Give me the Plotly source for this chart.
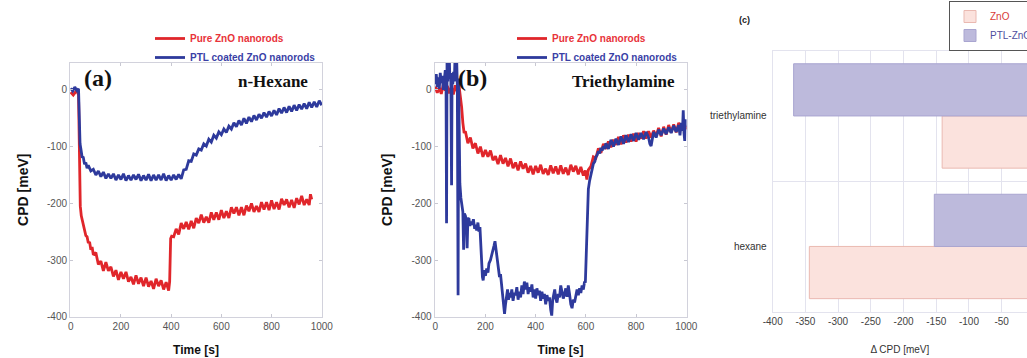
import plotly.graph_objects as go

# ---------------- data ----------------
# (a) n-Hexane, pure ZnO nanorods
a_zno_t = [0, 10, 20, 28, 31, 33, 35, 38, 42, 46,
           50, 55, 60, 65, 70, 75, 80, 85, 90,
           100, 110, 120, 130, 140, 150, 160, 170, 180, 190,
           200, 210, 220, 230, 240, 250, 260, 270, 280, 290,
           300, 310, 320, 330, 340, 350, 360, 370, 380, 390,
           394, 396, 398, 402,
           410, 420, 430, 440, 450, 460, 470, 480, 490, 500,
           510, 520, 530, 540, 550, 560, 570, 580, 590, 600,
           610, 620, 630, 640, 650, 660, 670, 680, 690, 700,
           710, 720, 730, 740, 750, 760, 770, 780, 790, 800,
           810, 820, 830, 840, 850, 860, 870, 880, 890, 900,
           910, 920, 930, 940, 950, 955, 960]
a_zno_v = [-4, -9, -3, -5, -9, -80, -165, -205, -222, -231,
           -241, -246, -257, -259, -270, -268, -282, -277, -291,
           -287, -308, -302, -319, -304, -319, -312, -329, -318, -335,
           -321, -333, -321, -338, -330, -343, -327, -342, -331, -346,
           -331, -347, -337, -351, -333, -346, -336, -352, -339, -354,
           -338, -300, -262, -258,
           -259, -245, -255, -235, -245, -233, -246, -231, -244, -226,
           -235, -220, -234, -224, -234, -216, -229, -216, -229, -212,
           -226, -214, -226, -207, -218, -207, -221, -207, -221, -204,
           -214, -200, -215, -205, -215, -198, -211, -198, -212, -195,
           -210, -198, -211, -192, -203, -193, -207, -194, -208, -191,
           -202, -187, -203, -193, -203, -184, -193]

# (a) n-Hexane, PTL coated ZnO nanorods
a_ptl_t = [0, 8, 16, 24, 31, 34, 37, 41, 45,
           50, 55, 60, 65, 70, 80, 90,
           100, 110, 120, 130, 140, 150, 160, 170, 180, 190,
           200, 210, 220, 230, 240, 250, 260, 270, 280, 290,
           300, 310, 320, 330, 340, 350, 360, 370, 380, 390,
           400, 410, 420, 430, 440, 450, 460, 470, 480, 490,
           500, 510, 520, 530, 540, 550, 560, 570, 580, 590,
           600, 610, 620, 630, 640, 650, 660, 670, 680, 690,
           700, 710, 720, 730, 740, 750, 760, 770, 780, 790,
           800, 810, 820, 830, 840, 850, 860, 870, 880, 890,
           900, 910, 920, 930, 940, 950, 960, 970, 980, 990, 1000]
a_ptl_v = [3, -2, 5, -1, 2, -60, -95, -106, -118,
           -119, -131, -128, -138, -133, -143, -140,
           -150, -143, -153, -145, -156, -148, -156, -148, -159, -150,
           -158, -148, -160, -151, -159, -150, -158, -149, -160, -151,
           -159, -149, -160, -150, -159, -150, -159, -148, -160, -151,
           -159, -150, -158, -149, -157, -141, -140, -125, -126, -113,
           -115, -104, -106, -95, -99, -87, -92, -80, -85, -74,
           -79, -69, -75, -64, -69, -58, -65, -54, -62, -50,
           -59, -48, -56, -45, -53, -43, -50, -40, -48, -38,
           -46, -36, -44, -33, -41, -31, -40, -29, -38, -27,
           -36, -26, -34, -24, -33, -22, -31, -21, -30, -19, -27]

# (b) Triethylamine, pure ZnO nanorods
b_zno_t = [0, 8, 16, 24, 32, 40, 48, 56, 64, 72, 80, 88, 95,
           100, 105, 110, 115, 120,
           130, 140, 150, 160, 170, 180, 190, 200, 210, 220,
           230, 240, 250, 260, 270, 280, 290, 300, 310, 320,
           330, 340, 350, 360, 370, 380, 390, 400, 410, 420,
           430, 440, 450, 460, 470, 480, 490, 500, 510, 520,
           530, 540, 550, 560, 570, 580, 590, 598, 604, 610,
           620, 630, 640, 650, 660, 670, 680, 690, 700, 710,
           720, 730, 740, 750, 760, 770, 780, 790, 800, 810,
           820, 830, 840, 850, 860, 870, 880, 890, 900, 910,
           920, 930, 940, 950, 960, 970, 980, 990, 1000]
b_zno_v = [6, -5, 4, -7, 9, -1, 7, -6, 5, -8, 8, -3, 6,
           -10, -30, -58, -76, -73,
           -94, -84, -103, -94, -112, -100, -118, -106, -118, -107,
           -124, -117, -131, -115, -130, -120, -135, -121, -138, -128,
           -142, -126, -139, -130, -146, -134, -149, -134, -146, -132,
           -148, -139, -150, -133, -147, -135, -149, -133, -148, -137,
           -150, -132, -144, -134, -149, -136, -151, -142, -158, -141,
           -135, -118, -120, -103, -111, -95, -104, -91, -101, -88,
           -97, -83, -96, -80, -93, -79, -91, -77, -91, -76,
           -86, -73, -86, -73, -84, -72, -81, -67, -82, -65,
           -79, -62, -75, -61, -75, -58, -71, -56, -70]

# (b) Triethylamine, PTL coated ZnO nanorods
b_ptl_t = [0, 4, 8, 12, 16, 20, 24, 28, 32, 36,
           40, 43, 45, 47, 50, 53, 56, 58, 62, 65,
           67, 70, 73, 76, 79, 82, 85, 88, 91, 93,
           96, 98, 102, 107, 110, 113, 116, 120, 124, 127,
           130, 134, 138, 142, 147, 152, 157, 161, 165, 170,
           174, 178, 182, 185, 188, 191, 195, 200, 205, 210,
           214, 220, 225, 230, 234, 238, 242, 247, 252, 256,
           260, 264, 268, 272, 276, 280, 284, 288, 292, 296,
           300, 305, 310, 315, 320, 325, 330, 335, 340, 345,
           350, 355, 360, 365, 370, 375, 380, 385, 390, 395,
           400, 405, 410, 415, 420, 425, 430, 435, 440, 445,
           450, 455, 460, 464, 468, 472, 476, 480, 485, 490,
           495, 500, 505, 510, 515, 520, 525, 530, 535, 540,
           545, 550, 555, 560, 565, 570, 575, 580, 585, 590,
           595, 598, 601, 603, 606, 610, 615, 620, 625, 630,
           636, 640, 645, 650, 655, 660, 665, 670, 675, 680,
           690, 700, 710, 720, 730, 740, 750, 760, 770, 780,
           790, 800, 810, 820, 830, 840, 850, 855, 860, 865,
           870, 880, 890, 900, 910, 920, 930, 940, 950, 960,
           970, 975, 980, 985, 988, 991, 994, 997, 1000]
b_ptl_v = [10, 28, 5, 22, 2, 30, 12, 25, 0, 18,
           35, 8, -235, 60, 15, 40, 60, 20, 30, -168,
           25, 10, 32, 15, 60, 20, 60, 5, -362, 20,
           -120, -165, -190, -206, -215, -282, -218, -222, -230, -279,
           -228, -226, -240, -232, -238, -228, -245, -238, -248, -234,
           -250, -242, -290, -312, -330, -336, -318, -328, -315, -322,
           -306, -300, -292, -285, -275, -267, -280, -300, -310, -330,
           -325, -345, -360, -372, -395, -378, -360, -352, -370, -358,
           -366, -352, -372, -358, -362, -348, -370, -356, -366, -345,
           -360, -338, -352, -340, -360, -348, -356, -343, -366, -352,
           -368, -350, -362, -354, -372, -356, -368, -360, -378, -362,
           -372, -366, -388, -398, -370, -362, -352, -368, -375, -360,
           -366, -345, -355, -368, -360, -350, -365, -345, -360, -378,
           -385, -370, -375, -360, -352, -362, -350, -358, -345, -352,
           -338, -340, -300, -245, -205, -175, -160, -148, -140, -130,
           -126, -118, -115, -108, -112, -102, -107, -99, -104, -94,
           -104, -88, -100, -86, -97, -82, -95, -80, -92, -78,
           -90, -76, -88, -76, -87, -74, -84, -95, -99, -86,
           -74, -84, -70, -80, -68, -78, -66, -76, -63, -74,
           -62, -80, -58, -72, -36, -76, -90, -52, -66]

# (c) change of CPD
c_categories = ["hexane", "triethylamine"]
c_zno = [-344, -141]
c_ptl = [-153, -368]

time_ticks = [0, 200, 400, 600, 800, 1000]
time_labels = ["0", "200", "400", "600", "800", "1000"]
cpd_ticks = [-400, -300, -200, -100, 0]
cpd_labels = ["-400", "-300", "-200", "-100", "0"]
dcpd_ticks = [-400, -350, -300, -250, -200, -150, -100, -50, 0]
dcpd_labels = ["-400", "-350", "-300", "-250", "-200", "-150", "-100", "-50", "0"]

for t, v in [(a_zno_t, a_zno_v), (a_ptl_t, a_ptl_v), (b_zno_t, b_zno_v), (b_ptl_t, b_ptl_v)]:
    assert len(t) == len(v), (len(t), len(v))

# ---------------- style ----------------
W, H = 1027, 358
SANS = "Liberation Sans, Arial, sans-serif"
SERIF = "Liberation Serif, Times New Roman, serif"
RED = "#e0262b"
BLUE = "#2e3a9c"
RED_TXT = "#e8333a"
BLUE_TXT = "#3a3fa6"
LW = 2.8


def fx(p):
    return p / W


def fy(p):
    return 1 - p / H


fig = go.Figure()

name_zno = '<span style="color:%s">Pure ZnO nanorods</span>' % RED_TXT
name_ptl = '<span style="color:%s">PTL coated ZnO nanorods</span>' % BLUE_TXT

fig.add_trace(go.Scatter(x=a_zno_t, y=a_zno_v, mode="lines", name=name_zno,
                         line=dict(color=RED, width=LW), xaxis="x", yaxis="y", legend="legend"))
fig.add_trace(go.Scatter(x=a_ptl_t, y=a_ptl_v, mode="lines", name=name_ptl,
                         line=dict(color=BLUE, width=LW), xaxis="x", yaxis="y", legend="legend"))
fig.add_trace(go.Scatter(x=b_zno_t, y=b_zno_v, mode="lines", name=name_zno,
                         line=dict(color=RED, width=LW), xaxis="x2", yaxis="y2", legend="legend2"))
fig.add_trace(go.Scatter(x=b_ptl_t, y=b_ptl_v, mode="lines", name=name_ptl,
                         line=dict(color=BLUE, width=LW), xaxis="x2", yaxis="y2", legend="legend2"))

fig.add_trace(go.Bar(y=c_categories, x=c_zno, orientation="h",
                     name='<span style="color:#d8403a">ZnO</span>',
                     marker=dict(color="#fbe2dd", line=dict(color="#eab9b1", width=1)),
                     xaxis="x3", yaxis="y3", legend="legend3"))
fig.add_trace(go.Bar(y=c_categories, x=c_ptl, orientation="h",
                     name='<span style="color:#4f4d9e">PTL-ZnO</span>',
                     marker=dict(color="#bdbadc", line=dict(color="#a9a5d0", width=1)),
                     xaxis="x3", yaxis="y3", legend="legend3"))

tick_font = dict(family=SANS, size=10, color="#555")
box = dict(ticks="inside", ticklen=3, tickcolor="#c8c8d2", showline=True,
           linecolor="#d2d2dc", linewidth=1, mirror="ticks", showgrid=False,
           zeroline=False, tickfont=tick_font)


def time_axis(x0, x1, anchor):
    return dict(box, domain=[fx(x0), fx(x1)], range=[-3, 1001],
                tickvals=time_ticks, ticktext=time_labels, anchor=anchor,
                title=dict(text="<b>Time [s]</b>", standoff=14,
                           font=dict(family=SANS, size=12, color="#111")))


def cpd_axis(anchor):
    return dict(box, domain=[fy(316.7), fy(62.7)], range=[-400, 48],
                tickvals=cpd_ticks, ticktext=cpd_labels, anchor=anchor,
                title=dict(text="<b>CPD [meV]</b>", font=dict(family=SANS, size=14, color="#111")))


leg_common = dict(xanchor="left", yanchor="top", bgcolor="rgba(0,0,0,0)", borderwidth=0,
                  font=dict(family=SANS, size=10, weight="bold"), itemwidth=30,
                  orientation="v")

fig.update_layout(
    width=W, height=H,
    margin=dict(l=0, r=0, t=0, b=0, autoexpand=False),
    paper_bgcolor="white", plot_bgcolor="white",
    barmode="group", bargap=0.2,
    xaxis=time_axis(70, 322, "y"),
    yaxis=cpd_axis("x"),
    xaxis2=time_axis(434.5, 686.5, "y2"),
    yaxis2=cpd_axis("x2"),
    xaxis3=dict(domain=[fx(772.7), 1.0], range=[-400, -11.3],
                tickvals=dcpd_ticks, ticktext=dcpd_labels,
                anchor="y3", showgrid=True, gridcolor="#e3e3ee", gridwidth=1,
                zeroline=False, showline=True, linecolor="#e3e3ee", mirror=True, ticks="",
                tickfont=dict(family=SANS, size=10, color="#444"),
                title=dict(text="\u0394 CPD [meV]", standoff=20,
                           font=dict(family=SANS, size=10, color="#333"))),
    yaxis3=dict(domain=[fy(311.7), fy(50.7)], type="category",
                categoryorder="array", categoryarray=c_categories,
                anchor="x3", tickson="boundaries", showgrid=True, gridcolor="#e3e3ee",
                showline=True, linecolor="#e3e3ee", mirror=True, ticks="",
                ticklabelstandoff=3,
                tickfont=dict(family=SANS, size=10, color="#333")),
    legend=dict(leg_common, x=fx(150), y=fy(24)),
    legend2=dict(leg_common, x=fx(512), y=fy(24)),
    legend3=dict(x=fx(949), y=fy(51), xanchor="left", yanchor="bottom",
                 bgcolor="white", bordercolor="#555", borderwidth=1,
                 font=dict(family=SANS, size=10)),
    showlegend=True,
    annotations=[
        dict(text="<b>(a)</b>", x=fx(97.5), y=fy(78), xref="paper", yref="paper",
             showarrow=False, xanchor="center", yanchor="middle",
             font=dict(family=SERIF, size=24, color="#111")),
        dict(text="<b>n-Hexane</b>", x=fx(310), y=fy(81.7), xref="paper", yref="paper",
             showarrow=False, xanchor="right", yanchor="middle",
             font=dict(family=SERIF, size=17, color="#111")),
        dict(text="<b>(b)</b>", x=fx(472.5), y=fy(78), xref="paper", yref="paper",
             showarrow=False, xanchor="center", yanchor="middle",
             font=dict(family=SERIF, size=24, color="#111")),
        dict(text="<b>Triethylamine</b>", x=fx(676.7), y=fy(81.7), xref="paper", yref="paper",
             showarrow=False, xanchor="right", yanchor="middle",
             font=dict(family=SERIF, size=17, color="#111")),
        dict(text="<b>(c)</b>", x=fx(744), y=fy(20), xref="paper", yref="paper",
             showarrow=False, xanchor="center", yanchor="middle",
             font=dict(family=SANS, size=9, color="#222")),
    ],
)

fig.write_html("out.html",
               config={"displayModeBar": False},
               post_script="document.body.style.margin='0';document.body.style.overflow='hidden';")
